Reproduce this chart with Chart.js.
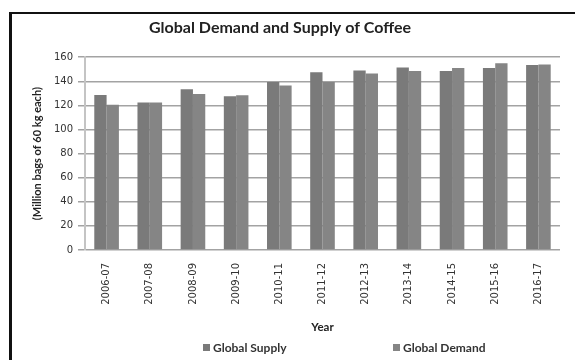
<!DOCTYPE html>
<html>
<head>
<meta charset="utf-8">
<script src="https://cdn.jsdelivr.net/npm/chart.js@4.4.1/dist/chart.umd.min.js"></script>
<style>
  html, body { margin:0; padding:0; background:#fff; }
  #wrap { position:relative; width:575px; height:360px; }
  #frame { position:absolute; left:9px; top:12px; right:0; bottom:0;
           border-left:3px solid #111; border-top:2px solid #111; pointer-events:none; }
</style>
</head>
<body>
<div id="wrap">
  <canvas id="chart" width="575" height="360"></canvas>
  <div id="frame"></div>
</div>
<script>
// =========================================
// DATOS
// =========================================
const years = ['2006-07','2007-08','2008-09','2009-10','2010-11','2011-12',
               '2012-13','2013-14','2014-15','2015-16','2016-17'];

const supply = [128.7, 122.5, 133.5, 127.5, 139.5, 147.5, 149.0, 151.5, 148.5, 151.0, 153.5];
const demand = [120.5, 122.5, 129.5, 128.5, 136.5, 139.5, 146.5, 148.5, 151.0, 155.0, 154.0];

const yTicks = [0, 20, 40, 60, 80, 100, 120, 140, 160];

// =========================================
// LEYENDA PROPIA (items separados)
// =========================================
const legendPlugin = {
  id: 'customLegend',
  afterDraw(chart){
    const ctx = chart.ctx;
    const xs = [203, 393];
    const y = 348;
    ctx.save();
    ctx.font = 'bold 12px Lato';
    ctx.textBaseline = 'middle';
    chart.data.datasets.forEach((ds, i) => {
      ctx.fillStyle = ds.backgroundColor;
      ctx.fillRect(xs[i], y - 4, 7, 7);
      ctx.fillStyle = '#333';
      ctx.fillText(ds.label, xs[i] + 10, y);
    });
    ctx.restore();
  }
};

new Chart(document.getElementById('chart'), {

  type: 'bar',

  data: {
    labels: years,
    datasets: [{
      label: 'Global Supply',
      data: supply,
      backgroundColor: '#7a7a7a'
    },{
      label: 'Global Demand',
      data: demand,
      backgroundColor: '#858585'
    }]
  },

  options:{
    responsive:false,
    animation:false,
    layout:{ padding:{ left:0, right:15, top:0, bottom:22 } },
    categoryPercentage:0.57,
    barPercentage:1.0,
    plugins:{
      legend:{ display:false },
      tooltip:{ enabled:false },
      title:{
        display:true,
        text:'Global Demand and Supply of Coffee',
        color:'#222',
        font:{ family:'Lato', size:16, weight:'bold', lineHeight:1.2 },
        padding:{ top:18, bottom:20 }
      }
    },
    scales:{
      x:{
        grid:{ display:false, drawTicks:false },
        border:{ display:false },
        ticks:{
          color:'#333',
          font:{ family:'DejaVu Sans', size:10 },
          maxRotation:90, minRotation:90,
          padding:13
        },
        title:{
          display:true,
          text:'Year',
          color:'#222',
          font:{ family:'Lato', size:11.5, weight:'bold' },
          padding:{ top:4, bottom:4 }
        },
        afterFit(scale){ scale.height = 88; }
      },
      y:{
        min:0,
        max:160,
        afterBuildTicks(scale){ scale.ticks = yTicks.map(v => ({ value:v })); },
        grid:{ color:'#a3a3a3', lineWidth:1.5, tickLength:7 },
        border:{ color:'#c4c4c4', width:2 },
        ticks:{
          color:'#333',
          font:{ family:'DejaVu Sans', size:10 },
          padding:5
        },
        title:{
          display:true,
          text:'(Million bags of 60 kg each)',
          color:'#222',
          font:{ family:'Lato', size:11, weight:'bold' },
          padding:{ top:31, bottom:4 }
        },
        afterFit(scale){ scale.width = 85; }
      }
    }
  },

  plugins:[legendPlugin]

});
</script>
</body>
</html>
